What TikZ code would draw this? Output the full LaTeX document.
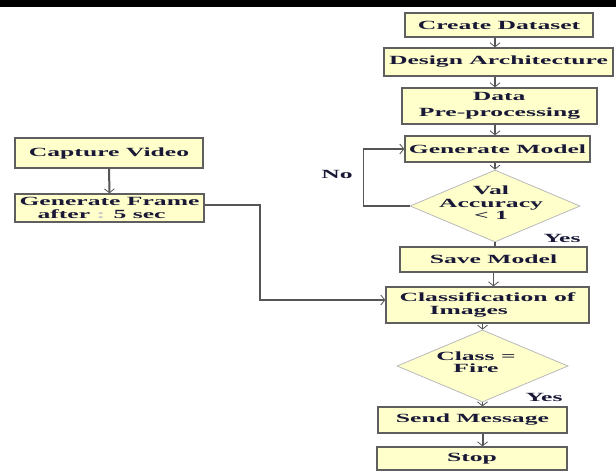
\documentclass[tikz,border=0pt]{standalone}
\usepackage{fontspec}
\newfontfamily\flowfont[FakeStretch=2.05]{Liberation Serif}
\usetikzlibrary{arrows.meta,shapes.geometric}
\definecolor{boxfill}{RGB}{255,255,204}
\definecolor{boxline}{RGB}{95,95,95}
\definecolor{flowtext}{RGB}{25,25,55}
\definecolor{wire}{RGB}{85,85,85}
\begin{document}
\begin{tikzpicture}[x=1pt, y=-1pt,
    lbl/.style={font=\flowfont\bfseries\fontsize{12.5}{12.5}\selectfont, text=flowtext, align=center},
    box/.style={lbl, draw=boxline, line width=1.4pt, fill=boxfill, inner sep=0pt},
    decision/.style={diamond, draw=gray!55, line width=0.8pt, fill=boxfill, inner sep=0pt},
    arr/.style={draw=wire, line width=1.2pt, -{Straight Barb[length=4pt,width=10pt,line width=0.8pt]}},
    wireline/.style={draw=wire, line width=1.2pt}]
  \useasboundingbox (0,0) rectangle (616,472);
  \fill[black] (0,0) rectangle (616,7);
  % right column
  \node[box, minimum width=188, minimum height=24] (create) at (499,25) {Create Dataset};
  \node[box, minimum width=229, minimum height=28] (design) at (498.5,62) {Design Architecture};
  \node[box, minimum width=195, minimum height=36, align=left] (prep) at (499.5,106) {\hspace*{54pt}Data\\[3pt]Pre-processing};
  \node[box, minimum width=185, minimum height=26] (genmodel) at (497.5,149) {Generate Model};
  \node[decision, minimum width=170, minimum height=72] (val) at (495,206) {};
  \node[lbl] (valtext) at (491,203) {Val\\Accuracy\\< 1};
  \node[box, minimum width=187, minimum height=25] (save) at (493.5,259.5) {Save Model};
  \node[box, minimum width=203, minimum height=36, align=left] (classify) at (487.5,305) {Classification of\\\hspace*{30pt}Images};
  \node[decision, minimum width=171, minimum height=72] (fire) at (482.5,366) {};
  \node[lbl] (firetext) at (476,362) {Class =\\Fire};
  \node[box, minimum width=189, minimum height=26] (send) at (472.5,420) {Send Message};
  \node[box, minimum width=190, minimum height=23] (stop) at (472,458.5) {Stop};
  % left column
  \node[box, minimum width=188, minimum height=30] (capture) at (109,153) {Capture Video};
  \node[box, minimum width=189, minimum height=28, align=left] (genframe) at (109.5,208) {Generate Frame\\\hspace*{18pt}after {\color{gray!45}:} 5 sec};
  \node[lbl] (no) at (337,174) {No};
  \node[lbl] (yes1) at (562,238) {Yes};
  \node[lbl] (yes2) at (544,397) {Yes};
  \coordinate (bend) at (260,300);
  % connectors
  \draw[arr] (create.south -| val) -- (design.north -| val);
  \draw[arr] (design.south -| val) -- (prep.north -| val);
  \draw[arr] (prep.south -| val) -- (genmodel.north -| val);
  \draw[arr] (genmodel.south -| val) -- (val.north);
  \draw[wireline] (val.south) -- (save.north -| val);
  \draw[arr] (val.west) -- ++(-46,0) |- (genmodel.west);
  \draw[arr] (save.south) -- (save.south |- classify.north);
  \draw[arr] (classify.south -| fire) -- (fire.north);
  \draw[arr] (fire.south) -- (send.north -| fire);
  \draw[arr, line width=2pt] (send.south -| fire) -- (stop.north -| fire);
  \draw[arr, line width=2pt] (capture.south) -- (genframe.north);
  \draw[arr] ([yshift=3pt]genframe.east) -| (bend) -- (classify.west |- bend);
\end{tikzpicture}
\end{document}
